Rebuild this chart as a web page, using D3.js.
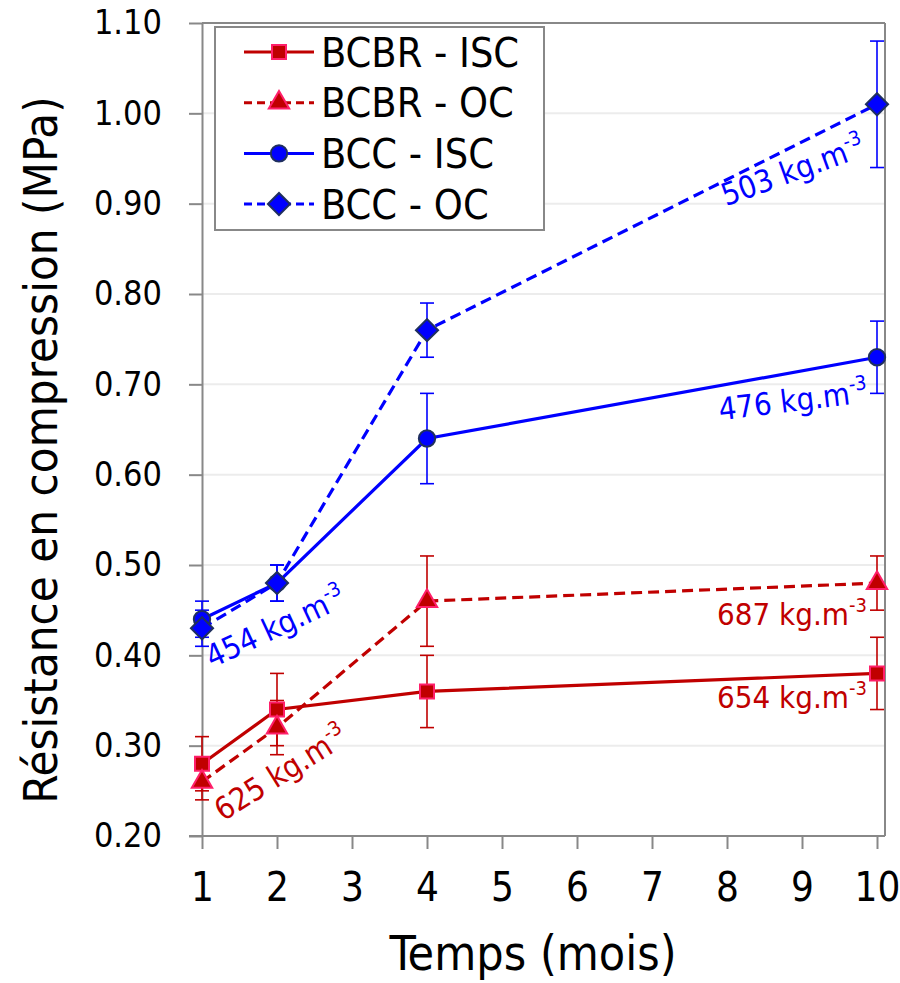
<!DOCTYPE html>
<html>
<head>
<meta charset="utf-8">
<script src="https://cdn.jsdelivr.net/npm/d3@7"></script>
<style>
  body { margin: 0; background: #fff; }
  #chart { width: 900px; height: 983px; }
  text { font-family: "DejaVu Sans Condensed", "DejaVu Sans", sans-serif; }
</style>
</head>
<body>
<div id="chart"></div>
<script>
// data
var months = [1, 2, 4, 10];
var xTicks = [1, 2, 3, 4, 5, 6, 7, 8, 9, 10];
var yTicks = [0.2, 0.3, 0.4, 0.5, 0.6, 0.7, 0.8, 0.9, 1.0, 1.1];

var bcbrIsc = [0.28, 0.34, 0.36, 0.38];
var bcbrIscErr = [0.03, 0.04, 0.04, 0.04];
var bcbrOc = [0.26, 0.32, 0.46, 0.48];
var bcbrOcErr = [0.02, 0.03, 0.05, 0.03];
var bccIsc = [0.44, 0.48, 0.64, 0.73];
var bccIscErr = [0.02, 0.02, 0.05, 0.04];
var bccOc = [0.43, 0.48, 0.76, 1.01];
var bccOcErr = [0.02, 0.02, 0.03, 0.07];

var seriesNames = ["BCBR - ISC", "BCBR - OC", "BCC - ISC", "BCC - OC"];

var red = "#C00000", blue = "#0000FF";

var series = [
    { name: seriesNames[0], values: bcbrIsc, err: bcbrIscErr, color: red, dash: null, shape: "square", fill: red, edge: "#FF1F6A" },
    { name: seriesNames[1], values: bcbrOc, err: bcbrOcErr, color: red, dash: "11,6", shape: "triangle", fill: red, edge: "#FF1F6A" },
    { name: seriesNames[2], values: bccIsc, err: bccIscErr, color: blue, dash: null, shape: "circle", fill: blue, edge: "#1F2F5F" },
    { name: seriesNames[3], values: bccOc, err: bccOcErr, color: blue, dash: "11,6", shape: "diamond", fill: blue, edge: "#1F2F5F" }
];

// density labels
var labels = [
    { text: "503 kg.m", x: 10, y: 1.01, dx: -151, dy: 102, angle: -20, color: blue },
    { text: "476 kg.m", x: 10, y: 0.73, dx: -157, dy: 63, angle: -7, color: blue },
    { text: "454 kg.m", x: 1, y: 0.44, dx: 10, dy: 49, angle: -25, color: blue },
    { text: "687 kg.m", x: 10, y: 0.48, dx: -160, dy: 42, angle: 0, color: red },
    { text: "654 kg.m", x: 10, y: 0.38, dx: -160, dy: 35, angle: 0, color: red },
    { text: "625 kg.m", x: 1, y: 0.28, dx: 21, dy: 58, angle: -32, color: red }
];

var width = 900, height = 983;
var svg = d3.select("#chart").append("svg")
    .attr("width", width)
    .attr("height", height);

var x = d3.scaleLinear().domain([1, 10]).range([202, 877]);
var y = d3.scaleLinear().domain([0.2, 1.1]).range([836, 23]);
var plotRight = 885;

// gridlines
svg.append("g").selectAll("line")
    .data(yTicks.slice(1, -1))
    .enter().append("line")
    .attr("x1", x(1)).attr("x2", plotRight)
    .attr("y1", function(d) { return y(d); })
    .attr("y2", function(d) { return y(d); })
    .attr("stroke", "#ececec")
    .attr("stroke-width", 2);

// frame (top and right)
svg.append("line")
    .attr("x1", x(1)).attr("x2", plotRight)
    .attr("y1", y(1.1)).attr("y2", y(1.1))
    .attr("stroke", "#888").attr("stroke-width", 2);
svg.append("line")
    .attr("x1", plotRight).attr("x2", plotRight)
    .attr("y1", y(1.1)).attr("y2", y(0.2))
    .attr("stroke", "#888").attr("stroke-width", 2);

// axes
var xAxis = svg.append("g")
    .attr("transform", "translate(0," + y(0.2) + ")")
    .call(d3.axisBottom(x).tickValues(xTicks).tickFormat(d3.format("d")).tickSize(13).tickSizeOuter(0).tickPadding(24));
var yAxis = svg.append("g")
    .attr("transform", "translate(" + x(1) + ",0)")
    .call(d3.axisLeft(y).tickValues(yTicks).tickFormat(d3.format(".2f")).tickSize(13).tickSizeOuter(0).tickPadding(27));

xAxis.select(".domain").attr("d", "M" + (x(1) - 13) + ",0H" + plotRight);
[xAxis, yAxis].forEach(function(ax) {
    ax.select(".domain").attr("stroke", "#888").attr("stroke-width", 2);
    ax.selectAll(".tick line").attr("stroke", "#888").attr("stroke-width", 2);
    ax.selectAll("text").attr("fill", "#000").style("font-family", null);
});
xAxis.selectAll("text").attr("font-size", 40).attr("dy", "0.71em");
yAxis.selectAll("text").attr("font-size", 34);

// axis titles
svg.append("text")
    .attr("x", 533).attr("y", 970)
    .attr("text-anchor", "middle")
    .attr("font-size", 48)
    .text("Temps (mois)");
svg.append("text")
    .attr("transform", "translate(57,450) rotate(-90)")
    .attr("text-anchor", "middle")
    .attr("font-size", 47)
    .text("Résistance en compression (MPa)");

function markerPath(shape) {
    if (shape === "square") return d3.symbol().type(d3.symbolSquare).size(196)();
    if (shape === "triangle") return d3.symbol().type(d3.symbolTriangle).size(180)();
    if (shape === "circle") return d3.symbol().type(d3.symbolCircle).size(210)();
    return d3.symbol().type(d3.symbolSquare).size(245)();
}

var line = d3.line()
    .x(function(d, i) { return x(months[i]); })
    .y(function(d) { return y(d); });

// error bars
series.forEach(function(s) {
    var g = svg.append("g").attr("stroke", s.color).attr("stroke-width", 1.6);
    s.values.forEach(function(v, i) {
        var cx = x(months[i]);
        var top = y(v + s.err[i]), bot = y(v - s.err[i]);
        g.append("line").attr("x1", cx).attr("x2", cx).attr("y1", top).attr("y2", bot);
        g.append("line").attr("x1", cx - 7).attr("x2", cx + 7).attr("y1", top).attr("y2", top);
        g.append("line").attr("x1", cx - 7).attr("x2", cx + 7).attr("y1", bot).attr("y2", bot);
    });
});

// lines and markers
series.forEach(function(s) {
    svg.append("path")
        .datum(s.values)
        .attr("d", line)
        .attr("fill", "none")
        .attr("stroke", s.color)
        .attr("stroke-width", 3.2)
        .attr("stroke-dasharray", s.dash);
});
series.forEach(function(s) {
    svg.append("g").selectAll("path")
        .data(s.values)
        .enter().append("path")
        .attr("d", markerPath(s.shape))
        .attr("transform", function(d, i) {
            return "translate(" + x(months[i]) + "," + y(d) + ")" + (s.shape === "diamond" ? " rotate(45)" : "");
        })
        .attr("fill", s.fill)
        .attr("stroke", s.edge)
        .attr("stroke-width", 2);
});

// density labels
labels.forEach(function(l) {
    var px = x(l.x) + l.dx, py = y(l.y) + l.dy;
    var t = svg.append("text")
        .attr("transform", "translate(" + px + "," + py + ") rotate(" + l.angle + ")")
        .attr("fill", l.color)
        .attr("font-size", 31)
        .text(l.text);
    t.append("tspan")
        .attr("font-size", 20)
        .attr("dy", -13)
        .text("-3");
});

// legend
var legend = svg.append("g");
legend.append("rect")
    .attr("x", 215).attr("y", 27)
    .attr("width", 329).attr("height", 203)
    .attr("fill", "#fff")
    .attr("stroke", "#888")
    .attr("stroke-width", 2);
var rows = legend.selectAll("g.row")
    .data(series)
    .enter().append("g")
    .attr("class", "row")
    .attr("transform", function(d, i) { return "translate(0," + (52 + i * 50.7) + ")"; });
rows.append("line")
    .attr("x1", 244).attr("x2", 314)
    .attr("stroke", function(d) { return d.color; })
    .attr("stroke-width", 3)
    .attr("stroke-dasharray", function(d) { return d.dash ? "8,5" : null; });
rows.append("path")
    .attr("d", function(d) { return markerPath(d.shape); })
    .attr("transform", function(d) { return "translate(279,0)" + (d.shape === "diamond" ? " rotate(45)" : ""); })
    .attr("fill", function(d) { return d.fill; })
    .attr("stroke", function(d) { return d.edge; })
    .attr("stroke-width", 2);
rows.append("text")
    .attr("x", 321)
    .attr("dy", "0.36em")
    .attr("font-size", 41)
    .text(function(d) { return d.name; });
</script>
</body>
</html>
